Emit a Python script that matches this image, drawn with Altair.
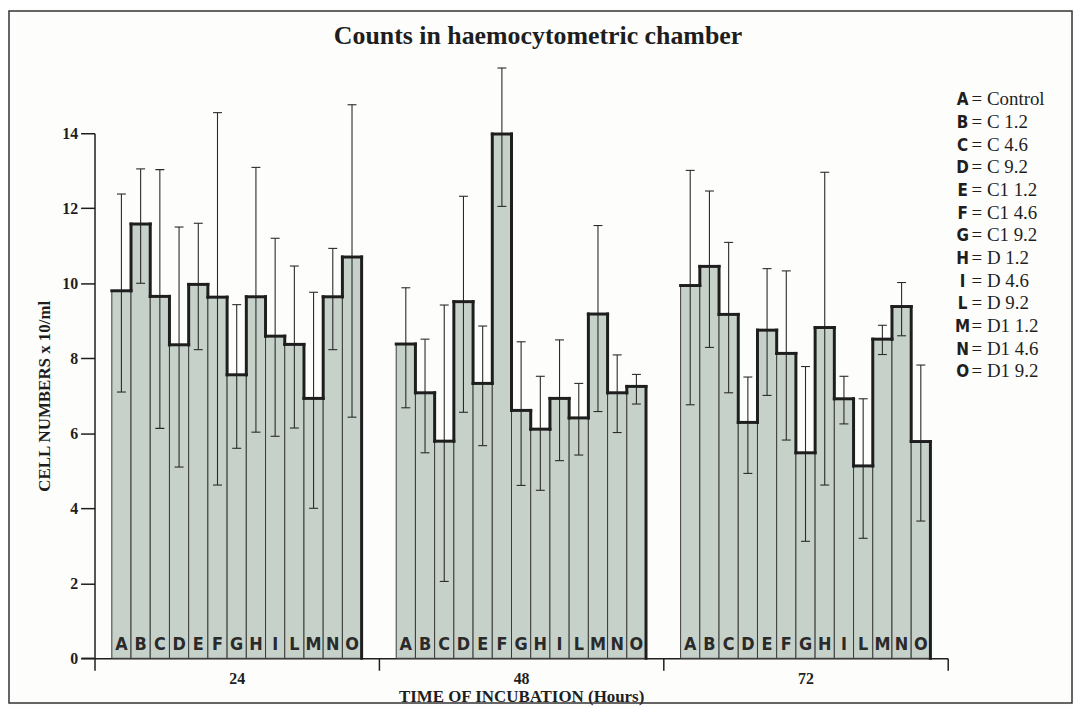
import altair as alt
import pandas as pd

# ---------------- data ----------------
title_text = "Counts in haemocytometric chamber"
times = ["24", "48", "72"]
letters = ["A", "B", "C", "D", "E", "F", "G", "H", "I", "L", "M", "N", "O"]
treatments = ["Control", "C 1.2", "C 4.6", "C 9.2", "C1 1.2", "C1 4.6", "C1 9.2",
              "D 1.2", "D 4.6", "D 9.2", "D1 1.2", "D1 4.6", "D1 9.2"]

mean_24 = [9.80, 11.58, 9.65, 8.36, 9.97, 9.63, 7.56, 9.64, 8.59, 8.37, 6.93, 9.64, 10.70]
lo_24 = [7.10, 10.00, 6.13, 5.10, 8.23, 4.62, 5.60, 6.03, 5.92, 6.14, 4.00, 8.23, 6.43]
hi_24 = [12.38, 13.05, 13.03, 11.50, 11.60, 14.55, 9.43, 13.09, 11.20, 10.46, 9.76, 10.93, 14.76]

mean_48 = [8.38, 7.08, 5.79, 9.51, 7.33, 13.98, 6.61, 6.11, 6.93, 6.41, 9.18, 7.08, 7.25]
lo_48 = [6.68, 5.48, 2.05, 6.56, 5.67, 12.05, 4.61, 4.48, 5.27, 5.42, 6.58, 6.02, 6.78]
hi_48 = [9.88, 8.51, 9.42, 12.32, 8.86, 15.74, 8.44, 7.52, 8.49, 7.33, 11.54, 8.09, 7.57]

mean_72 = [9.94, 10.45, 9.17, 6.29, 8.75, 8.13, 5.48, 8.82, 6.92, 5.13, 8.51, 9.38, 5.78]
lo_72 = [6.76, 8.29, 7.08, 4.93, 7.01, 5.82, 3.12, 4.62, 6.25, 3.20, 8.10, 8.60, 3.66]
hi_72 = [13.01, 12.46, 11.09, 7.50, 10.39, 10.33, 7.78, 12.96, 7.52, 6.92, 8.88, 10.02, 7.82]

y_ticks = [0, 2, 4, 6, 8, 10, 12, 14]
x_title = "TIME  OF INCUBATION (Hours)"
y_title = "CELL NUMBERS x 10/ml"

# ---------------- table built from the lists ----------------
means = [mean_24, mean_48, mean_72]
los = [lo_24, lo_48, lo_72]
his = [hi_24, hi_48, hi_72]
rows = []
for g, t in enumerate(times):
    m = means[g]
    for i, L in enumerate(letters):
        rows.append(dict(time=t, g=g, i=i, letter=L, mean=m[i], lo=los[g][i], hi=his[g][i],
                         nxt=m[i + 1] if i + 1 < len(m) else 0.0))
df = pd.DataFrame(rows)

# ---------------- layout / style ----------------
W, H = 858, 528
GROUP = 14.8   # slots per time group
PAD = 0.9      # empty slot fraction at each side of a group
XMAX = GROUP * len(times)
SERIF = "Liberation Serif, Times New Roman, serif"
SANS = "Liberation Sans Narrow, DejaVu Sans Condensed, Roboto, sans-serif"
DARK = "#1e1e1e"
FILL = "#c6d1c9"

xq = alt.Scale(domain=[0, XMAX], nice=False, zero=False)
yq = alt.Scale(domain=[0, 14], nice=False, zero=True)

base = alt.Chart(df).transform_calculate(
    xc=f"datum.g*{GROUP}+{PAD}+datum.i+0.5",
    x0="datum.xc-0.5",
    x1="datum.xc+0.5",
)

y_axis = alt.Axis(
    title=y_title, values=y_ticks, grid=False, tickSize=14, labelPadding=3,
    labelFont=SERIF, labelFontWeight="bold", labelFontSize=16, labelColor=DARK,
    titleFont=SERIF, titleFontWeight="bold", titleFontSize=17, titleColor=DARK,
    titlePadding=8, domainColor=DARK, domainWidth=1.5, tickColor=DARK, tickWidth=1.5,
)

bars = base.mark_bar(fill=FILL, stroke="#3a3a3a", strokeWidth=1).encode(
    x=alt.X("x0:Q", scale=xq, axis=None),
    x2="x1:Q",
    y=alt.Y("mean:Q", scale=yq, axis=y_axis),
    y2=alt.datum(0),
)

err = base.mark_rule(stroke="#2a2a2a", strokeWidth=1.1).encode(
    x=alt.X("xc:Q", scale=xq, axis=None), y="lo:Q", y2="hi:Q")

caps = base.transform_fold(["lo", "hi"], as_=["kind", "v"]).mark_tick(
    orient="horizontal", size=9, thickness=1.1, color="#2a2a2a", opacity=1).encode(
    x=alt.X("xc:Q", scale=xq, axis=None), y="v:Q")

tops = base.mark_rule(stroke=DARK, strokeWidth=3, strokeCap="square").encode(
    x=alt.X("x0:Q", scale=xq, axis=None), x2="x1:Q", y="mean:Q")

conn = base.mark_rule(stroke=DARK, strokeWidth=3, strokeCap="square").encode(
    x=alt.X("x1:Q", scale=xq, axis=None), y="mean:Q", y2="nxt:Q")

bar_letters = base.mark_text(font=SANS, fontWeight="bold", fontSize=18, color="#2a2a2a",
                             baseline="alphabetic", dy=-8).encode(
    x=alt.X("xc:Q", scale=xq, axis=None), y=alt.datum(0), text="letter:N")

axis_layer = alt.Chart(pd.DataFrame({"time": times})).mark_rule(opacity=0).encode(
    x=alt.X("time:N", sort=times,
            scale=alt.Scale(domain=times, paddingInner=0, paddingOuter=0),
            axis=alt.Axis(title=x_title, tickBand="extent", labelAngle=0, grid=False,
                          tickSize=12, labelPadding=0,
                          labelFont=SERIF, labelFontWeight="bold", labelFontSize=16,
                          labelColor=DARK, titleFont=SERIF, titleFontWeight="bold",
                          titleFontSize=17, titleColor=DARK, titlePadding=2,
                          domainColor=DARK, domainWidth=1.5, tickColor=DARK, tickWidth=1.5)))

one = pd.DataFrame({"k": [0]})
title_mark = alt.Chart(one).mark_text(font=SERIF, fontWeight="bold", fontSize=26, color=DARK,
                                      align="center", baseline="middle").encode(
    x=alt.value(446), y=alt.value(-98), text=alt.value(title_text))

leg_letters = alt.Chart(one).mark_text(font=SANS, fontWeight="bold", fontSize=17, color=DARK,
                                       align="center", baseline="alphabetic", lineHeight=22.8).encode(
    x=alt.value(873), y=alt.value(-28), text=alt.value(letters))

leg_desc = alt.Chart(one).mark_text(font=SERIF, fontSize=19, color=DARK,
                                    align="left", baseline="alphabetic", lineHeight=22.8).encode(
    x=alt.value(882), y=alt.value(-28), text=alt.value(["= " + t for t in treatments]))

x_ext = alt.Chart(one).mark_rule(stroke=DARK, strokeWidth=1.5).encode(
    x=alt.value(-13), x2=alt.value(0), y=alt.value(H))

frame = alt.Chart(one).mark_rect(fillOpacity=0, stroke="#333333", strokeWidth=1.5).encode(
    x=alt.value(-86), x2=alt.value(983), y=alt.value(-123), y2=alt.value(H + 45))

chart = alt.layer(
    axis_layer, bars, err, caps, tops, conn, bar_letters,
    title_mark, leg_letters, leg_desc, x_ext, frame,
).resolve_scale(x="independent").properties(
    width=W, height=H,
    padding={"left": 87, "top": 124, "right": 127, "bottom": 47},
    autosize=alt.AutoSizeParams(type="none"),
    background="#fdfdfc",
).configure_view(strokeWidth=0)

chart.save("out.html", embed_options={"renderer": "svg", "actions": False})
